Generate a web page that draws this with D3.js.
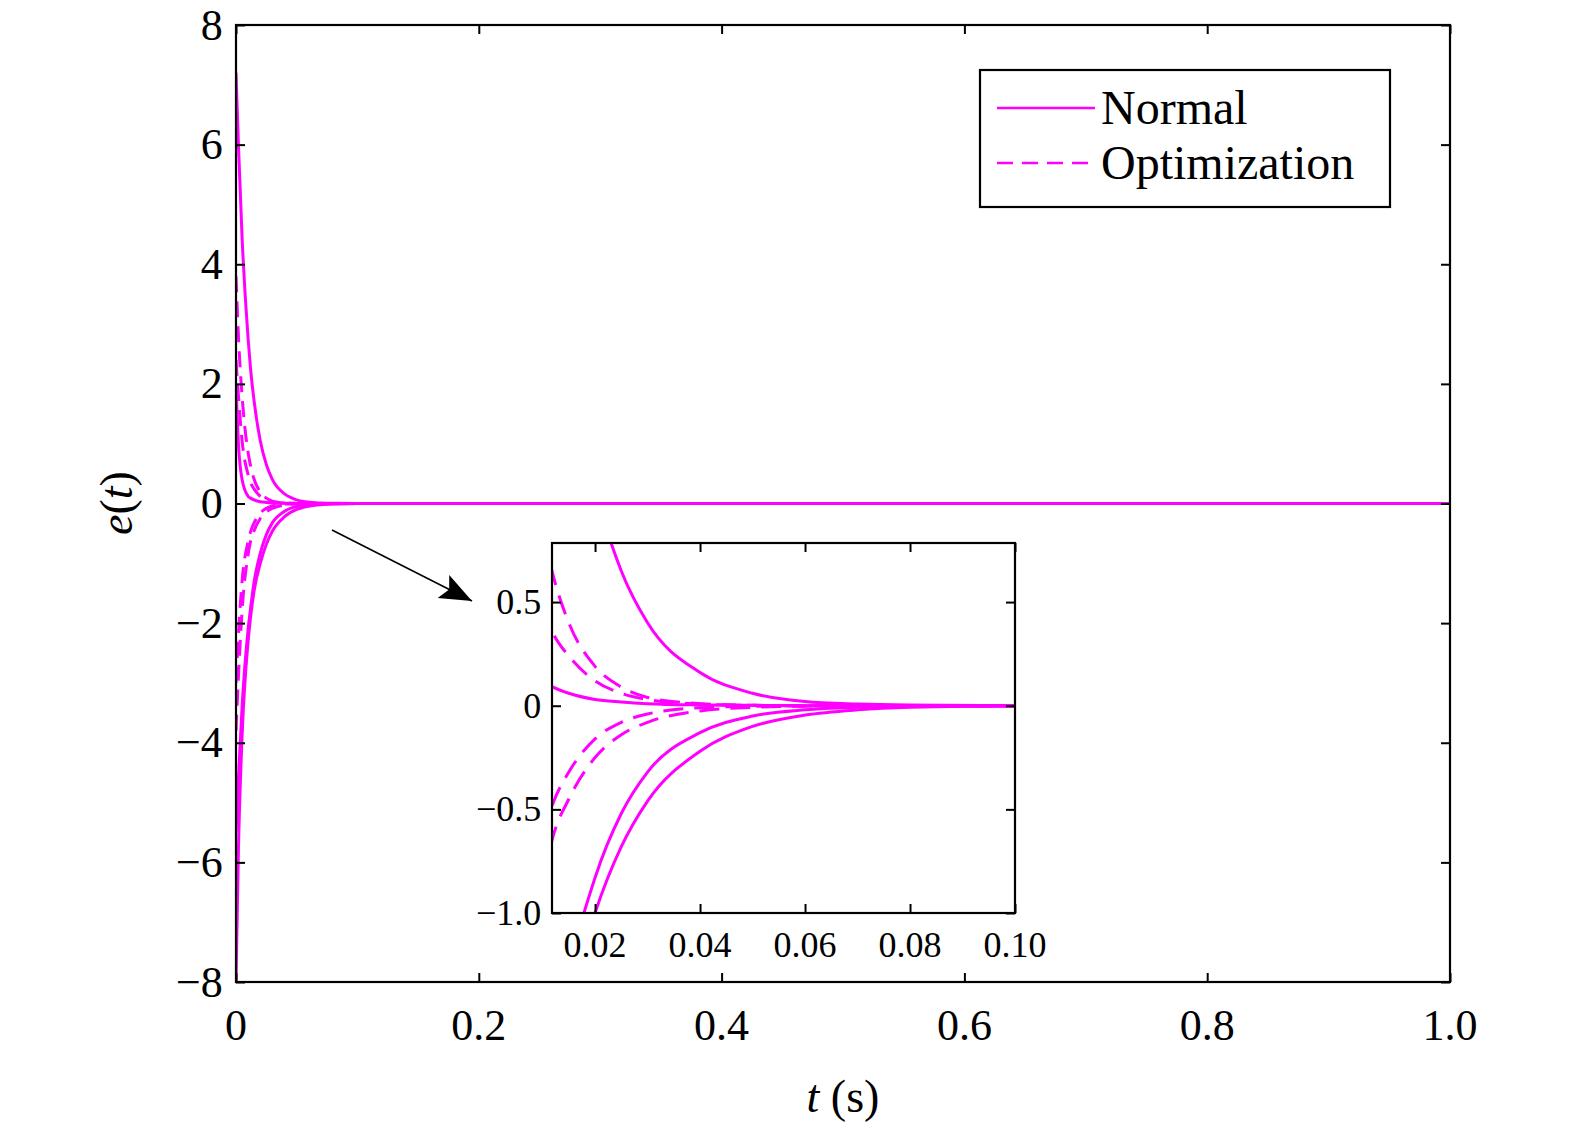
<!DOCTYPE html>
<html><head><meta charset="utf-8">
<script src="https://d3js.org/d3.v7.min.js"></script>
<style>html,body{margin:0;background:#fff;overflow:hidden}svg{display:block}svg text{font-family:"Liberation Serif","Times New Roman",serif}</style>
</head><body><svg id="c" width="1575" height="1130"></svg>
<script>
const tVals = [0,0.002,0.005,0.01,0.012,0.015,0.02,0.025,0.03,0.04,0.05,0.06,0.07,0.08,0.1,1.0];
const normal1 = [7.2,6.0,4.45,2.75,2.25,1.7,1.05,0.65,0.4,0.16,0.06,0.02,0.008,0.003,0,0];
const normal2 = [2.0,1.0,0.4,0.12,0.09,0.06,0.03,0.018,0.01,0.004,0.002,0,0,0,0,0];
const normal3 = [-5.5,-4.6,-3.4,-2.1,-1.75,-1.3,-0.83,-0.52,-0.32,-0.13,-0.05,-0.02,-0.008,-0.003,0,0];
const normal4 = [-8,-5.8,-3.9,-2.3,-1.9,-1.45,-1.0,-0.68,-0.46,-0.22,-0.1,-0.045,-0.02,-0.008,-0.001,0];
const optim1 = [3.8,2.8,1.8,0.85,0.63,0.4,0.19,0.09,0.04,0.01,0.002,0,0,0,0,0];
const optim2 = [2.4,1.8,1.05,0.48,0.35,0.24,0.12,0.06,0.03,0.008,0.002,0,0,0,0,0];
const optim3 = [-3.0,-2.2,-1.3,-0.63,-0.47,-0.32,-0.16,-0.08,-0.04,-0.01,-0.003,0,0,0,0,0];
const optim4 = [-3.8,-2.9,-1.8,-0.85,-0.63,-0.45,-0.25,-0.14,-0.08,-0.025,-0.008,-0.002,0,0,0,0];
const mainXTicks = [0,0.2,0.4,0.6,0.8,1.0];
const mainXLabels = ["0","0.2","0.4","0.6","0.8","1.0"];
const mainYTicks = [-8,-6,-4,-2,0,2,4,6,8];
const insetXTicks = [0.02,0.04,0.06,0.08,0.10];
const insetYTicks = [-1.0,-0.5,0,0.5];
const insetYLabels = ["\u22121.0","\u22120.5","0","0.5"];
const legendLabels = ["Normal","Optimization"];

const C = "#ff00ff";
const svg = d3.select("#c");
const series = [
  {v:normal1,d:false},{v:normal2,d:false},{v:normal3,d:false},{v:normal4,d:false},
  {v:optim1,d:true},{v:optim2,d:true},{v:optim3,d:true},{v:optim4,d:true}];
const fmtMinus = s => String(s).replace("-","\u2212");

function panel(L,R,T,B,xd,yd,xt,xl,yt,yl,fs,xoff,dash,id){
  const x = d3.scaleLinear().domain(xd).range([L,R]);
  const y = d3.scaleLinear().domain(yd).range([B,T]);
  svg.append("clipPath").attr("id",id).append("rect").attr("x",L).attr("y",T).attr("width",R-L).attr("height",B-T);
  const g = svg.append("g");
  g.append("rect").attr("x",L).attr("y",T).attr("width",R-L).attr("height",B-T).attr("fill","#fff");
  const line = d3.line().x((d,i)=>x(tVals[i])).y(d=>y(d)).curve(d3.curveMonotoneX);
  const lg = g.append("g").attr("clip-path",`url(#${id})`);
  series.forEach(s=>lg.append("path").attr("d",line(s.v)).attr("fill","none").attr("stroke",C)
    .attr("stroke-width",3).attr("stroke-dasharray",s.d?dash:null));
  const tl = 9;
  const ax = (sel)=>sel.selectAll("text").remove();
  g.append("g").attr("transform",`translate(0,${B})`).call(d3.axisBottom(x).tickValues(xt).tickSizeInner(-tl).tickSizeOuter(0)).call(ax);
  g.append("g").attr("transform",`translate(0,${T})`).call(d3.axisTop(x).tickValues(xt).tickSizeInner(-tl).tickSizeOuter(0)).call(ax);
  g.append("g").attr("transform",`translate(${L},0)`).call(d3.axisLeft(y).tickValues(yt).tickSizeInner(-tl).tickSizeOuter(0)).call(ax);
  g.append("g").attr("transform",`translate(${R},0)`).call(d3.axisRight(y).tickValues(yt).tickSizeInner(-tl).tickSizeOuter(0)).call(ax);
  g.selectAll(".domain").remove();
  g.selectAll(".tick line").attr("stroke","#000").attr("stroke-width",2);
  g.append("rect").attr("x",L).attr("y",T).attr("width",R-L).attr("height",B-T).attr("fill","none").attr("stroke","#000").attr("stroke-width",2.2);
  xt.forEach((t,i)=>g.append("text").attr("x",x(t)).attr("y",B+xoff).attr("text-anchor","middle").attr("font-size",fs).text(xl[i]));
  yt.forEach((t,i)=>g.append("text").attr("x",L-fs*0.3).attr("y",y(t)+fs*0.33).attr("text-anchor","end").attr("font-size",fs).text(yl[i]));
}

panel(236,1450,25,982,[0,1],[-8,8],mainXTicks,mainXLabels,mainYTicks,mainYTicks.map(fmtMinus),44,58,"16,9","cm");

// legend
svg.append("rect").attr("x",980).attr("y",70).attr("width",410).attr("height",137).attr("fill","#fff").attr("stroke","#000").attr("stroke-width",2.2);
legendLabels.forEach((t,i)=>{
  const yy = 108+i*55;
  svg.append("line").attr("x1",997).attr("x2",1095).attr("y1",yy).attr("y2",yy).attr("stroke",C).attr("stroke-width",2.6).attr("stroke-dasharray",i?"16,9":null);
  svg.append("text").attr("x",1101).attr("y",yy+16).attr("font-size",48).text(t);
});

// arrow
svg.append("defs").append("marker").attr("id","ah").attr("viewBox","0 0 10 10").attr("refX",10).attr("refY",5)
  .attr("markerWidth",32).attr("markerHeight",32).attr("markerUnits","userSpaceOnUse").attr("orient","auto")
  .append("path").attr("d","M0,1 L10,5 L0,9 L2,5 Z").attr("fill","#000");
svg.append("line").attr("x1",332).attr("y1",530).attr("x2",472).attr("y2",601).attr("stroke","#000").attr("stroke-width",1.6).attr("marker-end","url(#ah)");

panel(552,1015,543,913,[0.0118,0.1],[-1.0,0.785],insetXTicks,insetXTicks.map(d=>d.toFixed(2)),insetYTicks,insetYLabels,36,44,"20,11","ci");

// axis labels
svg.append("text").attr("transform","translate(132,503) rotate(-90)").attr("text-anchor","middle").attr("font-size",46)
  .html('<tspan font-style="italic">e</tspan>(<tspan font-style="italic">t</tspan>)');
svg.append("text").attr("x",843).attr("y",1112).attr("text-anchor","middle").attr("font-size",46)
  .html('<tspan font-style="italic">t</tspan> (s)');
</script></body></html>
